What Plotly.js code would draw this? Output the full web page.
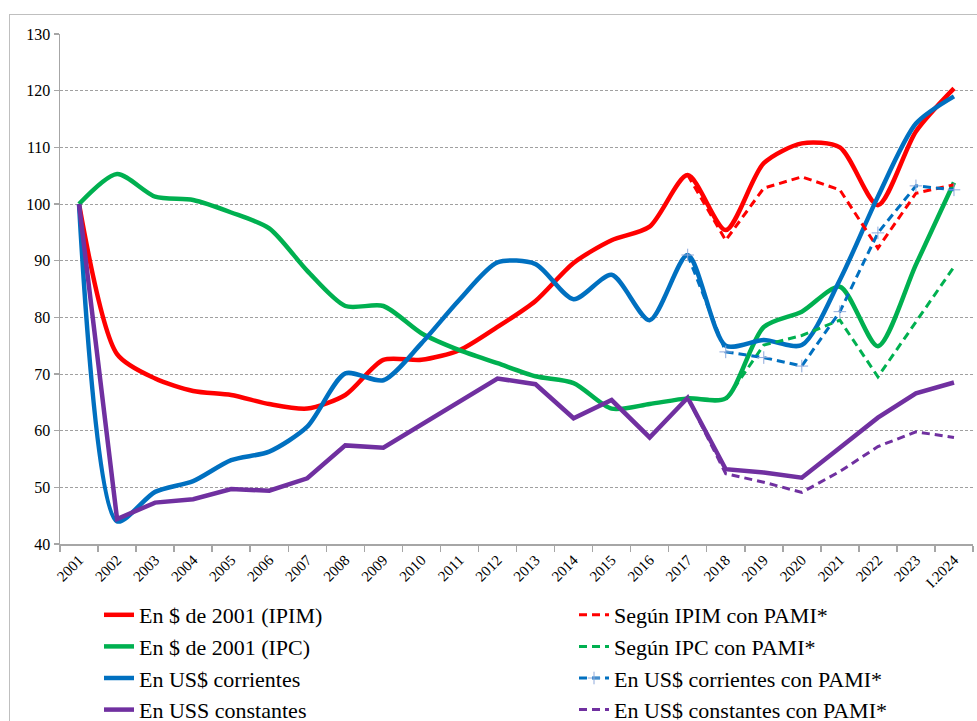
<!DOCTYPE html>
<html>
<head>
<meta charset="utf-8">
<script src="https://cdn.plot.ly/plotly-3.0.1.min.js"></script>
<style>
  html, body { margin: 0; padding: 0; background: #fff; }
  #frame { position: absolute; left: 9px; top: 14px; width: 1000px; height: 800px; border: 1.5px solid #bfbfbf; box-sizing: border-box; }
  #chart { position: absolute; left: 0; top: 0; width: 977px; height: 721px; }
</style>
</head>
<body>
<div id="frame"></div>
<div id="chart"></div>
<script>
const years = ["2001","2002","2003","2004","2005","2006","2007","2008","2009","2010","2011","2012","2013","2014","2015","2016","2017","2018","2019","2020","2021","2022","2023","I.2024"];

const ipim = [100, 73.5, 69.2, 67.0, 66.3, 64.7, 63.9, 66.3, 72.5, 72.5, 74.2, 78.3, 82.9, 89.6, 93.6, 96.0, 105.1, 95.4, 107.2, 110.7, 110.0, 99.8, 112.8, 120.4];
const ipc = [100, 105.3, 101.3, 100.7, 98.5, 95.7, 88.2, 82.0, 82.0, 77.2, 74.2, 71.9, 69.6, 68.4, 63.9, 64.7, 65.7, 65.7, 78.3, 81.0, 85.4, 74.9, 89.3, 103.8];
const usdCorr = [100, 44.0, 49.2, 51.1, 54.8, 56.3, 60.7, 70.1, 68.9, 75.4, 83.1, 89.7, 89.4, 83.2, 87.5, 79.5, 91.0, 75.0, 76.0, 75.1, 86.6, 101.3, 114.2, 119.0];
const usdConst = [100, 44.4, 47.3, 47.9, 49.7, 49.4, 51.6, 57.4, 57.0, 61.0, 65.1, 69.2, 68.2, 62.2, 65.4, 58.8, 65.8, 53.2, 52.6, 51.7, 57.0, 62.3, 66.6, 68.5];

const ipimPami = [null,null,null,null,null,null,null,null,null,null,null,null,null,null,null,null, 105.1, 93.6, 102.8, 104.8, 102.5, 92.2, 101.9, 103.4];
const ipcPami = [null,null,null,null,null,null,null,null,null,null,null,null,null,null,null,null, 65.7, 65.4, 75.1, 76.8, 79.5, 69.5, 79.2, 88.9];
const usdCorrPami = [null,null,null,null,null,null,null,null,null,null,null,null,null,null,null,null, 91.0, 73.9, 72.9, 71.4, 81.0, 94.9, 103.2, 102.5];
const usdConstPami = [null,null,null,null,null,null,null,null,null,null,null,null,null,null,null,null, 65.8, 52.4, 50.9, 49.1, 52.8, 57.2, 59.8, 58.8];

const names = ["En $ de 2001 (IPIM)", "En $ de 2001 (IPC)", "En US$ corrientes", "En USS constantes",
               "Según IPIM con PAMI*", "Según IPC con PAMI*", "En US$ corrientes con PAMI*", "En US$ constantes con PAMI*"];

const RED = "#FF0000", GREEN = "#00B050", BLUE = "#0070C0", PURPLE = "#7030A0";
const FONT = "'Liberation Serif', 'Times New Roman', Tinos, 'DejaVu Serif', serif";

function solid(y, name, color, shape, i) {
  return { x: years, y: y, name: name, type: "scatter", mode: "lines",
    line: { color: color, width: 4.5, shape: shape, smoothing: 0.75 },
    legend: "legend", legendgroup: "g" + i, legendrank: i, hoverinfo: "skip" };
}
function dashed(y, name, color, i, withMarker) {
  const t = { x: years, y: y, name: name, type: "scatter", mode: withMarker ? "lines+markers" : "lines",
    line: { color: color, width: 3, dash: "8px,5px" },
    legend: "legend2", legendgroup: "h" + i, legendrank: i, hoverinfo: "skip" };
  if (withMarker) {
    t.marker = { symbol: "cross-thin", size: 9, color: "#8EA9DB", line: { color: "#8EA9DB", width: 1 } };
  }
  return t;
}

const data = [
  solid(ipim, names[0], RED, "spline", 1),
  solid(ipc, names[1], GREEN, "spline", 2),
  solid(usdCorr, names[2], BLUE, "spline", 3),
  solid(usdConst, names[3], PURPLE, "linear", 4),
  dashed(ipimPami, names[4], RED, 1, false),
  dashed(ipcPami, names[5], GREEN, 2, false),
  dashed(usdCorrPami, names[6], BLUE, 3, true),
  dashed(usdConstPami, names[7], PURPLE, 4, false)
];

const legendCommon = {
  orientation: "v", yanchor: "top", xanchor: "left", xref: "container", yref: "container",
  font: { family: FONT, size: 22, color: "#000" },
  bgcolor: "rgba(0,0,0,0)", borderwidth: 0, tracegroupgap: 0,
  traceorder: "normal", itemclick: false, itemdoubleclick: false
};

const layout = {
  width: 977, height: 721,
  margin: { l: 60, r: 4, t: 34, b: 177, autoexpand: false },
  paper_bgcolor: "rgba(0,0,0,0)", plot_bgcolor: "rgba(0,0,0,0)",
  font: { family: FONT, color: "#000" },
  showlegend: true,
  legend: Object.assign({}, legendCommon, { x: 99 / 977, y: 1 - 594 / 721 }),
  legend2: Object.assign({}, legendCommon, { x: 574 / 977, y: 1 - 594 / 721 }),
  xaxis: {
    type: "category", range: [-0.5, 23.5],
    showline: true, linecolor: "#a6a6a6", linewidth: 1.5,
    ticks: "outside", tickson: "boundaries", ticklen: 6, tickcolor: "#a6a6a6", tickwidth: 1.5,
    tickangle: -45, tickfont: { family: FONT, size: 15, color: "#000" },
    showgrid: false, zeroline: false, fixedrange: true, automargin: false
  },
  yaxis: {
    range: [40, 130], dtick: 10, tick0: 40,
    showline: true, linecolor: "#a6a6a6", linewidth: 1.5,
    ticks: "outside", ticklen: 5, tickcolor: "#a6a6a6", tickwidth: 1.5,
    tickfont: { family: FONT, size: 16, color: "#000" },
    showgrid: true, gridcolor: "#a0a0a0", gridwidth: 1, griddash: "3px,2px",
    zeroline: false, fixedrange: true, automargin: false
  }
};

Plotly.newPlot("chart", data, layout, { displayModeBar: false, staticPlot: true });
</script>
</body>
</html>
